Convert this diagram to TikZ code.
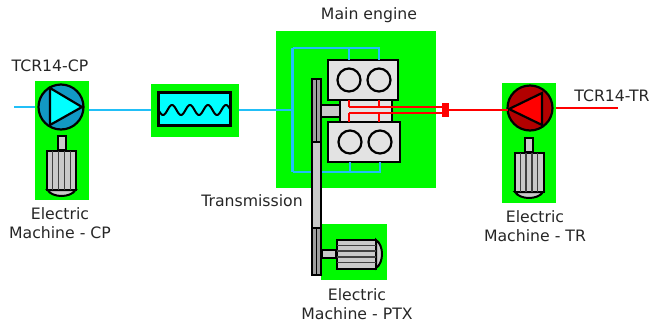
\documentclass[tikz,border=0pt]{standalone}
\usepackage{fontspec}
\setmainfont{DejaVu Sans}
\definecolor{skidgreen}{rgb}{0.00,0.98,0.00}
\definecolor{coldline}{rgb}{0.13,0.75,0.97}
\definecolor{coldfill}{rgb}{0.00,1.00,1.00}
\definecolor{coldpump}{rgb}{0.07,0.60,0.77}
\definecolor{hotpump}{rgb}{0.70,0.00,0.00}
\definecolor{metal}{rgb}{0.79,0.79,0.79}
\definecolor{block}{rgb}{0.89,0.89,0.89}
\definecolor{labeltext}{rgb}{0.15,0.15,0.15}
\usetikzlibrary{arrows.meta,positioning}

\begin{document}
\begin{tikzpicture}[
      x=1pt, y=-1pt,
      every node/.style={inner sep=0pt, outer sep=0pt},
      skid/.style={fill=skidgreen, minimum width=#1},
      part/.style={draw=black, line width=2.2pt, minimum width=#1},
      gearbox/.style={part=9pt, fill=gray!75,
                  path picture={\draw[black, line width=0.8pt]
                  (path picture bounding box.north) -- (path picture bounding box.south);}},
      cyl/.style={draw=black, line width=2.2pt, fill=block, circle, minimum size=23pt},
      pump/.style={draw=black, line width=2.2pt, circle, minimum size=45pt},
      lbl/.style={font=\fontsize{15.7}{19.5}\selectfont, text=labeltext, align=center},
      coldln/.style={draw=coldline, line width=2.2pt},
      hotln/.style={draw=red, line width=2pt},
      motor/.pic={
        \draw[line width=2pt, fill=metal] (-4,-15) rectangle (4,-1);
        \draw[line width=2pt, fill=metal] (-14,39) .. controls (-9,47) and (9,47) .. (14,39) -- cycle;
        \draw[line width=2pt, fill=metal] (-14.5,0) rectangle (14.5,39);
        \foreach \fin in {-8.7,-2.9,2.9,8.7}
          \draw[line width=1.3pt, black!75] (\fin,0) -- (\fin,39);
      }
  ]
    \useasboundingbox (0,0) rectangle (650,322);

    % green skids
    \node[skid=54pt, minimum height=119pt] (cpbox) at (62,140.5) {};
    \node[skid=88pt, minimum height=53pt]  (coolbox) at (195,110) {};
    \node[skid=160pt, minimum height=157pt] (mainbox) at (356,109.5) {};
    \node[skid=66pt, minimum height=56pt]  (ptxbox) at (354,252) {};
    \node[skid=54pt, minimum height=120pt] (trbox) at (529,143) {};

    % compressor side
    \coordinate (cpin) at (14,107);
    \node[pump, fill=coldpump] (pumpcp) at (61,107) {};
    \draw[line width=2.2pt, fill=coldfill] ([shift={(-11,-19)}]pumpcp.center)
      -- ([shift={(21,0)}]pumpcp.center) -- ([shift={(-11,18)}]pumpcp.center) -- cycle;
    \pic at (61.5,151) {motor};
    \node[part=72pt, minimum height=33pt, fill=coldfill] (coolcore) at (194.5,109) {};
    \draw[line width=2pt, shift={(coolcore.west)}] plot[domain=0:72, samples=90]
      (\x,{1+5*sin(\x*20)});
    \draw[coldln] (cpin) -- (cpin -| cpbox.west);
    \draw[coldln] (coolbox.west -| cpbox.east) -- (coolbox.west);

    % main engine
    \coordinate (loopin)  at (292.5,110);
    \coordinate (looptop) at (292.5,48);
    \coordinate (loopbot) at (292.5,172);
    \node[part=52pt, minimum height=24pt, fill=block] (midblock) at (366,110) {};
    \node[part=70pt, minimum height=40pt, fill=block] (upper) at (363,80) {};
    \node[part=72pt, minimum height=40pt, fill=block] (lower) at (364,142) {};
    \node[cyl] (cyl1) at (349,80) {};
    \node[cyl] (cyl2) at (379,80) {};
    \node[cyl] (cyl3) at (350,142) {};
    \node[cyl] (cyl4) at (380,142) {};
    \draw[coldln] (loopin) -- (coolbox.east);
    \draw[coldln] (looptop) -- (loopbot);
    \draw[coldln] (looptop) -| (upper.north -| cyl2);
    \draw[coldln] (upper.north -| cyl1) -- (looptop -| cyl1);
    \draw[coldln] (loopbot) -| (lower.south -| cyl4);
    \draw[coldln] (lower.south -| cyl3) -- (loopbot -| cyl3);

    % transmission
    \node[part=9pt, minimum height=86pt, fill=metal] (gearbar) at (316.5,185) {};
    \node[part=19pt, minimum height=12pt, fill=metal] (crank) at (330.5,111) {};
    \node[gearbox, minimum height=63pt] (gearup) at (316.5,110.5) {};
    \node[gearbox, minimum height=47pt] (gearlow) at (316.5,251.5) {};
    \pic[rotate=90] at (337,254) {motor};

    % turbine side
    \coordinate (hotup) at (349,107);
    \coordinate (hotlow) at (349,113);
    \coordinate (trout) at (618,108);
    \node[fill=red, draw=red, minimum width=6pt, minimum height=13pt] (clutch) at (445.5,110) {};
    \node[pump, fill=hotpump] (pumptr) at (530,108) {};
    \draw[line width=2.2pt, fill=red] ([shift={(-21,1)}]pumptr.center)
      -- ([shift={(12,-15)}]pumptr.center) -- ([shift={(12,17)}]pumptr.center) -- cycle;
    \pic at (529,153) {motor};
    \draw[hotln] (hotup) -- (hotup -| clutch.west);
    \draw[hotln] (hotlow) -- (hotlow -| clutch.west);
    \draw[hotln] (upper.south -| cyl1) -- (hotup);
    \draw[hotln] (upper.south -| cyl2) -- (hotup -| cyl2);
    \draw[hotln] (lower.north -| cyl1) -- (hotlow);
    \draw[hotln] (lower.north -| cyl2) -- (hotlow -| cyl2);
    \draw[hotln] (clutch.east -| pumptr.west) -- (clutch.east);
    \draw[hotln] (trout -| trbox.east) -- (trout);

    % labels
    \node[lbl] (tcp)   at (50,66)   {TCR14-CP};
    \node[lbl] (lcp)   at (60,223)  {Electric\\Machine - CP};
    \node[lbl] (lmain) at (369,15)  {Main engine};
    \node[lbl] (ltx)   at (252,201) {Transmission};
    \node[lbl] (lptx)  at (357,304) {Electric\\Machine - PTX};
    \node[lbl] (ltcr)  at (612,96)  {TCR14-TR};
    \node[lbl] (ltr)   at (535,226) {Electric\\Machine - TR};
\end{tikzpicture}
\end{document}
